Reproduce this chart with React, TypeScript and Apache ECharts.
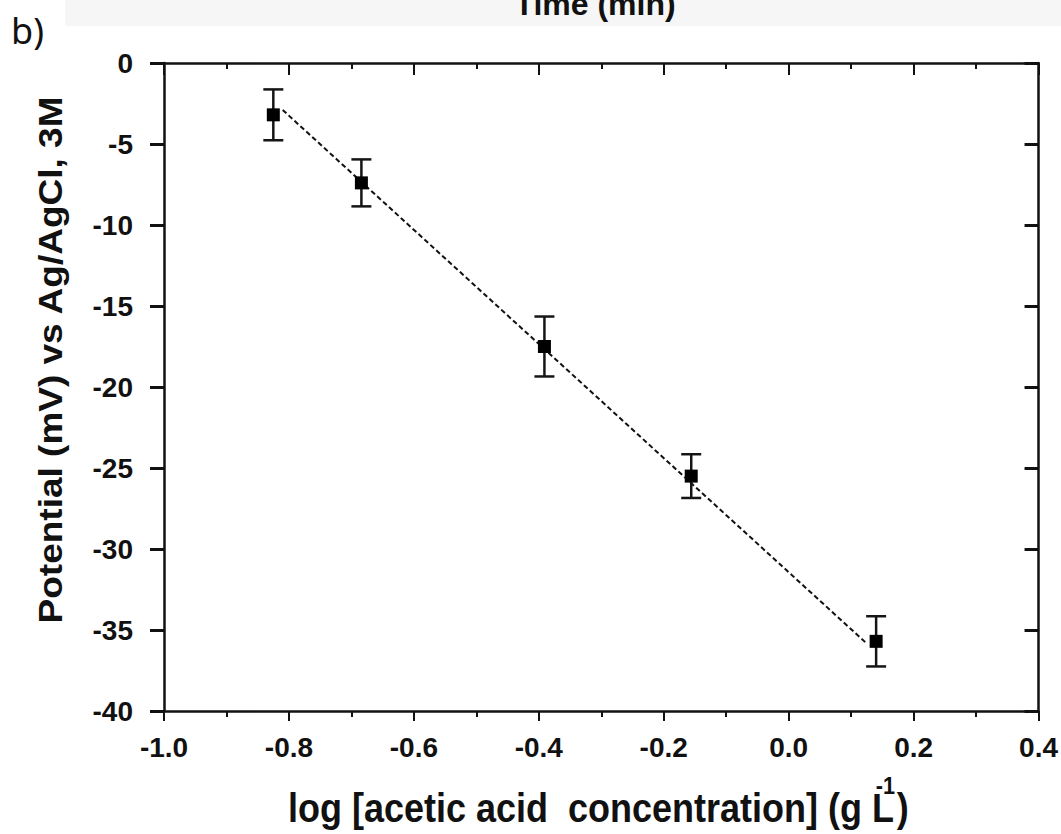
import React, { useEffect, useRef } from "react";
import * as echarts from "echarts";

// ---- data ----
const logConc = [-0.825, -0.684, -0.391, -0.156, 0.14];
const potential = [-3.2, -7.4, -17.5, -25.5, -35.7];
const potentialErr = [1.57, 1.45, 1.85, 1.35, 1.55];
const fitLineX = [-0.81, 0.124];
const fitLineY = [-2.9, -35.8];

const xTitleMain = "log [acetic acid  concentration] (g L";
const xTitleSup = "-1";
const xTitleEnd = ")";
const yTitle = "Potential (mV) vs Ag/AgCl, 3M";
const topTitle = "Time (min)";
const panelLabel = "b)";

const FONT = '"Liberation Sans", Arial, sans-serif';
const INK = "#111";

export default function App() {
  const ref = useRef<HTMLDivElement>(null);

  useEffect(() => {
    if (!ref.current) return;
    const chart = echarts.init(ref.current, null, { renderer: "svg" });

    const ctx = document.createElement("canvas").getContext("2d")!;
    ctx.font = `bold 40px ${FONT}`;
    const w1 = ctx.measureText(xTitleMain).width;
    const w3 = ctx.measureText(xTitleEnd).width;
    ctx.font = `bold 24px ${FONT}`;
    const w2 = ctx.measureText(xTitleSup).width;
    const sx = 0.9;
    const total = (w1 + w3) * sx;
    const startX = 597 - total / 2;

    const points = logConc.map((x, i) => [x, potential[i]]);
    const errData = logConc.map((x, i) => [x, potential[i] - potentialErr[i], potential[i] + potentialErr[i]]);
    const fitData = fitLineX.map((x, i) => [x, fitLineY[i]]);

    const xCommon = {
      type: "value" as const,
      min: -1,
      max: 0.4,
      interval: 0.2,
      splitLine: { show: false },
    };
    const yCommon = {
      type: "value" as const,
      min: -40,
      max: 0,
      interval: 5,
      splitLine: { show: false },
    };

    chart.setOption({
      animation: false,
      backgroundColor: "#ffffff",
      grid: { left: 164, right: 21, top: 63, bottom: 123, containLabel: false },
      xAxis: [
        {
          ...xCommon,
          position: "bottom",
          axisLine: { show: true, onZero: false, lineStyle: { color: INK, width: 2.5 } },
          axisTick: { show: true, inside: false, length: 10, lineStyle: { color: INK, width: 2 } },
          minorTick: { show: true, splitNumber: 2, length: 6, lineStyle: { color: INK, width: 2 } },
          axisLabel: {
            show: true,
            margin: 22,
            color: INK,
            fontFamily: FONT,
            fontWeight: "bold",
            fontSize: 28,
            formatter: (v: number) => (Math.abs(v) < 1e-9 ? "0.0" : v.toFixed(1)),
          },
        },
        {
          ...xCommon,
          position: "top",
          axisLine: { show: true, onZero: false, lineStyle: { color: INK, width: 2.5 } },
          axisTick: { show: true, inside: true, length: 12, lineStyle: { color: INK, width: 2 } },
          minorTick: { show: true, splitNumber: 2, length: 6, lineStyle: { color: INK, width: 2 } },
          axisLabel: { show: false },
        },
      ],
      yAxis: [
        {
          ...yCommon,
          position: "left",
          axisLine: { show: true, onZero: false, lineStyle: { color: INK, width: 2.5 } },
          axisTick: { show: true, inside: false, length: 14, lineStyle: { color: INK, width: 3 } },
          axisLabel: {
            show: true,
            margin: 31,
            color: INK,
            fontFamily: FONT,
            fontWeight: "bold",
            fontSize: 28,
            formatter: (v: number) => String(Math.round(v)),
          },
        },
        {
          ...yCommon,
          position: "right",
          axisLine: { show: true, onZero: false, lineStyle: { color: INK, width: 2.5 } },
          axisTick: { show: true, inside: true, length: 14, lineStyle: { color: INK, width: 3 } },
          axisLabel: { show: false },
        },
      ],
      series: [
        {
          type: "line",
          data: fitData,
          showSymbol: false,
          symbol: "none",
          lineStyle: { color: INK, width: 2, type: [5, 3] },
          z: 2,
        },
        {
          type: "custom",
          data: errData,
          z: 3,
          renderItem: (params: any, api: any) => {
            const x = api.value(0);
            const lo = api.coord([x, api.value(1)]);
            const hi = api.coord([x, api.value(2)]);
            const half = 10;
            const style = { stroke: "#151515", lineWidth: 2.5 };
            return {
              type: "group",
              children: [
                { type: "line", shape: { x1: lo[0], y1: lo[1], x2: hi[0], y2: hi[1] }, style },
                { type: "line", shape: { x1: lo[0] - half, y1: lo[1], x2: lo[0] + half, y2: lo[1] }, style },
                { type: "line", shape: { x1: hi[0] - half, y1: hi[1], x2: hi[0] + half, y2: hi[1] }, style },
              ],
            };
          },
        },
        {
          type: "scatter",
          data: points,
          symbol: "rect",
          symbolSize: 13,
          itemStyle: { color: "#000", opacity: 1 },
          z: 4,
        },
      ],
      graphic: [
        {
          type: "rect",
          shape: { x: 65, y: 0, width: 1000, height: 26 },
          style: { fill: "#f6f6f6" },
          z: -10,
        },
        {
          type: "text",
          x: 595,
          y: 4,
          style: {
            text: topTitle,
            fontFamily: FONT,
            fontWeight: "bold",
            fontSize: 32,
            fill: INK,
            align: "center",
            verticalAlign: "middle",
          },
        },
        {
          type: "text",
          x: 11,
          y: 30,
          style: {
            text: panelLabel,
            fontFamily: '"Noto Sans", sans-serif',
            fontSize: 36,
            fill: INK,
            align: "left",
            verticalAlign: "middle",
          },
        },
        {
          type: "text",
          x: 51,
          y: 360,
          rotation: Math.PI / 2,
          scaleY: 0.92,
          style: {
            text: yTitle,
            fontFamily: FONT,
            fontWeight: "bold",
            fontSize: 37,
            fill: INK,
            align: "center",
            verticalAlign: "middle",
          },
        },
        {
          type: "group",
          x: startX,
          y: 0,
          scaleX: sx,
          children: [
            {
              type: "text",
              x: 0,
              y: 808,
              style: {
                text: xTitleMain,
                fontFamily: FONT,
                fontWeight: "bold",
                fontSize: 40,
                fill: INK,
                align: "left",
                verticalAlign: "middle",
              },
            },
            {
              type: "text",
              x: w1 - w2 + 1,
              y: 786,
              style: {
                text: xTitleSup,
                fontFamily: FONT,
                fontWeight: "bold",
                fontSize: 24,
                fill: INK,
                align: "left",
                verticalAlign: "middle",
              },
            },
            {
              type: "text",
              x: w1 + 3,
              y: 808,
              style: {
                text: xTitleEnd,
                fontFamily: FONT,
                fontWeight: "bold",
                fontSize: 40,
                fill: INK,
                align: "left",
                verticalAlign: "middle",
              },
            },
          ],
        },
      ],
    });

    return () => chart.dispose();
  }, []);

  return (
    <div
      ref={ref}
      style={{ position: "absolute", left: 0, top: 0, width: 1061, height: 834, background: "#fff" }}
    />
  );
}
